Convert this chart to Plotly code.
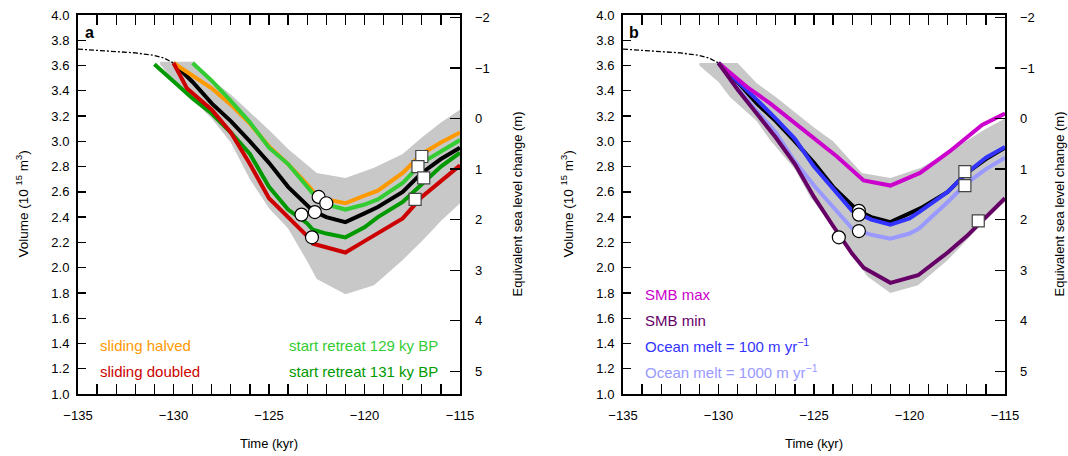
import plotly.graph_objects as go

# ---------------- data ----------------
t_dash = [-135, -134, -133, -132, -131, -130.5, -130]
v_dash = [3.73, 3.72, 3.71, 3.70, 3.68, 3.66, 3.62]

# panel a
t_ref = [-130, -129, -128, -127, -126, -125, -124, -123, -122.7, -122, -121, -120, -119.3, -118, -117, -116, -115]
v_ref = [3.62, 3.47, 3.30, 3.16, 3.00, 2.83, 2.64, 2.49, 2.45, 2.40, 2.36, 2.43, 2.48, 2.60, 2.75, 2.86, 2.95]

t_halved = [-130, -129, -128, -127, -126, -125, -124, -123, -122.5, -122, -121, -120, -119.3, -118, -117, -116, -115]
v_halved = [3.62, 3.52, 3.42, 3.29, 3.14, 2.96, 2.82, 2.66, 2.57, 2.54, 2.51, 2.57, 2.61, 2.75, 2.90, 2.99, 3.07]

t_doubled = [-130, -129.6, -129.3, -129, -128, -127, -126, -125, -124, -123, -122.7, -122, -121, -120, -119.3, -118, -117, -116, -115]
v_doubled = [3.62, 3.50, 3.42, 3.38, 3.25, 3.07, 2.82, 2.55, 2.40, 2.25, 2.19, 2.16, 2.12, 2.21, 2.27, 2.39, 2.56, 2.68, 2.81]

t_r129 = [-129, -128, -127, -126, -125, -124, -123, -122.5, -122, -121, -120, -119.3, -118, -117, -116, -115]
v_r129 = [3.62, 3.48, 3.32, 3.15, 2.95, 2.82, 2.64, 2.55, 2.50, 2.46, 2.50, 2.54, 2.67, 2.83, 2.92, 3.01]

t_r131 = [-131, -130, -129.5, -129, -128, -127, -126, -125, -124, -123, -122.7, -122, -121, -120, -119.3, -118, -117, -116, -115]
v_r131 = [3.61, 3.47, 3.40, 3.34, 3.22, 3.07, 2.90, 2.64, 2.46, 2.35, 2.30, 2.27, 2.24, 2.32, 2.40, 2.52, 2.66, 2.80, 2.91]

env_a_t_up = [-130.7, -128.9, -128, -127, -126, -125, -124, -123, -122.5, -121, -119.5, -118, -117, -116, -115]
env_a_v_up = [3.63, 3.63, 3.49, 3.37, 3.23, 3.09, 2.94, 2.81, 2.75, 2.71, 2.79, 2.90, 3.03, 3.15, 3.25]
env_a_t_lo = [-130.7, -130, -129, -128, -127, -126, -125, -124, -123, -122.5, -121, -119.5, -118, -117, -116, -115]
env_a_v_lo = [3.61, 3.48, 3.33, 3.18, 2.99, 2.70, 2.47, 2.31, 2.05, 1.91, 1.79, 1.86, 2.06, 2.21, 2.37, 2.51]

circ_a_t = [-122.4, -122.0, -122.6, -123.3, -122.75]
circ_a_v = [2.56, 2.51, 2.44, 2.42, 2.24]
sq_a_t = [-117.0, -117.2, -116.9, -117.35]
sq_a_v = [2.88, 2.80, 2.71, 2.54]

# panel b
t_m100 = [-130, -129, -128, -127, -126, -125, -124, -123, -122, -121, -120, -119.5, -118, -117, -116, -115]
v_m100 = [3.62, 3.48, 3.33, 3.18, 3.02, 2.80, 2.63, 2.45, 2.38, 2.34, 2.39, 2.44, 2.60, 2.75, 2.87, 2.955]

t_m1000 = [-130, -129, -128, -127, -126, -125, -124, -123, -122, -121, -120, -119.5, -118, -117, -116, -115]
v_m1000 = [3.62, 3.42, 3.24, 3.07, 2.84, 2.65, 2.48, 2.31, 2.26, 2.23, 2.27, 2.31, 2.52, 2.67, 2.78, 2.87]

t_smbmax = [-130, -128.5, -127.3, -125.6, -123.8, -122.4, -121, -119.45, -117.9, -116.2, -115]
v_smbmax = [3.62, 3.43, 3.30, 3.10, 2.88, 2.69, 2.65, 2.75, 2.92, 3.13, 3.22]

t_smbmin = [-130, -129, -128, -127, -126, -125, -124, -123, -122.4, -121, -119.55, -118, -117, -116, -115]
v_smbmin = [3.62, 3.41, 3.22, 3.03, 2.82, 2.56, 2.33, 2.11, 2.00, 1.88, 1.94, 2.12, 2.25, 2.40, 2.55]

env_b_t_up = [-131, -129, -128, -127, -125, -124, -122.5, -121, -119.4, -117.9, -116, -115]
env_b_v_up = [3.62, 3.62, 3.46, 3.35, 3.11, 3.00, 2.75, 2.71, 2.79, 2.92, 3.10, 3.18]
env_b_t_lo = [-131, -130, -129.4, -128, -127.3, -126, -125.2, -124, -123.6, -122.2, -121, -119.55, -118, -117, -116, -115]
env_b_v_lo = [3.60, 3.47, 3.35, 3.16, 3.01, 2.78, 2.56, 2.33, 2.22, 1.93, 1.80, 1.86, 2.06, 2.22, 2.38, 2.52]

circ_b_t = [-122.65, -122.65, -122.65, -123.7]
circ_b_v = [2.45, 2.42, 2.29, 2.24]
sq_b_t = [-117.1, -117.1, -116.4]
sq_b_v = [2.76, 2.65, 2.37]

x_ticks = [-135, -130, -125, -120, -115]
x_ticktext = ["\u2212135", "\u2212130", "\u2212125", "\u2212120", "\u2212115"]
sle_ticks = [-2, -1, 0, 1, 2, 3, 4, 5]
sle_ticktext = ["\u22122", "\u22121", "0", "1", "2", "3", "4", "5"]

# colours
C_GRAY = "#c8c8c8"
C_ORANGE = "#ff9900"
C_RED = "#cc0000"
C_LGREEN = "#33cc33"
C_DGREEN = "#009900"
C_MAGENTA = "#cc00cc"
C_PURPLE = "#660066"
C_BLUE = "#3333ff"
C_LBLUE = "#9999ff"

FONT = "Liberation Sans, Arial, Helvetica, sans-serif"

fig = go.Figure()

def envelope(tu, vu, tl, vl, xa, ya):
    xs = list(tu) + list(reversed(tl))
    ys = list(vu) + list(reversed(vl))
    fig.add_trace(go.Scatter(x=xs, y=ys, fill="toself", fillcolor=C_GRAY,
                             line=dict(width=0), mode="lines", hoverinfo="skip",
                             xaxis=xa, yaxis=ya, showlegend=False))

def line(t, v, color, xa, ya, width=4, dash=None):
    fig.add_trace(go.Scatter(x=t, y=v, mode="lines",
                             line=dict(color=color, width=width, dash=dash),
                             xaxis=xa, yaxis=ya, showlegend=False))

def markers(t, v, symbol, size, xa, ya, edge="black"):
    fig.add_trace(go.Scatter(x=t, y=v, mode="markers",
                             marker=dict(symbol=symbol, size=size, color="white",
                                         line=dict(color=edge, width=1.2)),
                             xaxis=xa, yaxis=ya, showlegend=False))

# panel a
envelope(env_a_t_up, env_a_v_up, env_a_t_lo, env_a_v_lo, "x", "y")
line(t_dash, v_dash, "black", "x", "y", width=1.3, dash="5px,2px,2px,2px")
line(t_ref, v_ref, "black", "x", "y")
line(t_halved, v_halved, C_ORANGE, "x", "y")
line(t_r129, v_r129, C_LGREEN, "x", "y")
line(t_r131, v_r131, C_DGREEN, "x", "y")
line(t_doubled, v_doubled, C_RED, "x", "y")
markers(circ_a_t, circ_a_v, "circle", 13, "x", "y")
markers(sq_a_t, sq_a_v, "square", 12, "x", "y", edge="#444444")

# panel b
envelope(env_b_t_up, env_b_v_up, env_b_t_lo, env_b_v_lo, "x2", "y3")
line(t_dash, v_dash, "black", "x2", "y3", width=1.3, dash="5px,2px,2px,2px")
line(t_m1000, v_m1000, C_LBLUE, "x2", "y3")
line(t_ref, v_ref, "black", "x2", "y3", width=4)
line(t_m100, v_m100, C_BLUE, "x2", "y3")
line(t_smbmax, v_smbmax, C_MAGENTA, "x2", "y3")
line(t_smbmin, v_smbmin, C_PURPLE, "x2", "y3")
markers(circ_b_t, circ_b_v, "circle", 13, "x2", "y3")
markers(sq_b_t, sq_b_v, "square", 12, "x2", "y3", edge="#444444")

# invisible traces to activate the sea-level axes
fig.add_trace(go.Scatter(x=[-135], y=[0], mode="markers", marker=dict(opacity=0),
                         xaxis="x", yaxis="y2", showlegend=False, hoverinfo="skip"))
fig.add_trace(go.Scatter(x=[-135], y=[0], mode="markers", marker=dict(opacity=0),
                         xaxis="x2", yaxis="y4", showlegend=False, hoverinfo="skip"))

XA = [0.07303, 0.43071]
XB = [0.58333, 0.94101]
YD = [0.13596, 0.96711]

tickfont = dict(family=FONT, size=13, color="black")

def xaxis(domain, anchor):
    return dict(domain=domain, anchor=anchor, range=[-135, -115],
                tickmode="array", tickvals=x_ticks, ticktext=x_ticktext,
                ticks="inside", ticklen=10, tickwidth=1.3, tickcolor="black",
                minor=dict(dtick=1, tick0=-135, ticks="inside", ticklen=5, tickwidth=1.3, tickcolor="black"),
                showline=True, linewidth=2, linecolor="black", mirror="allticks",
                showgrid=False, zeroline=False, tickfont=tickfont, automargin=False,
                ticklabelstandoff=8, fixedrange=True)

def yaxis(anchor):
    return dict(domain=YD, anchor=anchor, range=[1, 4], dtick=0.2, tick0=1,
                tickformat=".1f", ticks="inside", ticklen=8, tickwidth=1.3, tickcolor="black",
                showline=True, linewidth=2, linecolor="black", mirror=True,
                showgrid=False, zeroline=False, tickfont=tickfont, automargin=False,
                ticklabelstandoff=4)

def sleaxis(over, anchor):
    return dict(overlaying=over, anchor=anchor, side="right", range=[5.45, -2.05],
                tickmode="array", tickvals=sle_ticks, ticktext=sle_ticktext,
                ticks="inside", ticklen=10, tickwidth=1.3, tickcolor="black",
                showline=False, showgrid=False, zeroline=False, tickfont=tickfont,
                automargin=False, ticklabelstandoff=14)

fig.update_layout(
    width=1068, height=456,
    margin=dict(l=0, r=0, t=0, b=0),
    paper_bgcolor="white", plot_bgcolor="white",
    font=dict(family=FONT, size=13, color="black"),
    xaxis=xaxis(XA, "y"),
    yaxis=yaxis("x"),
    yaxis2=sleaxis("y", "x"),
    xaxis2=xaxis(XB, "y3"),
    yaxis3=yaxis("x2"),
    yaxis4=sleaxis("y3", "x2"),
    showlegend=False,
)

ann = []
lf = lambda c, s=13: dict(family=FONT, size=s, color=c)
LEG = 15
# panel labels
ann.append(dict(x=-134.4, y=3.86, xref="x", yref="y", text="<b>a</b>", showarrow=False,
                xanchor="center", yanchor="middle", font=dict(family=FONT, size=16, color="black")))
ann.append(dict(x=-134.4, y=3.86, xref="x2", yref="y3", text="<b>b</b>", showarrow=False,
                xanchor="center", yanchor="middle", font=dict(family=FONT, size=16, color="black")))
# panel a legend texts
ann.append(dict(x=-133.95, y=1.387, xref="x", yref="y", text="sliding halved", showarrow=False,
                xanchor="left", yanchor="middle", font=lf(C_ORANGE, LEG)))
ann.append(dict(x=-133.95, y=1.18, xref="x", yref="y", text="sliding doubled", showarrow=False,
                xanchor="left", yanchor="middle", font=lf(C_RED, LEG)))
ann.append(dict(x=-116.05, y=1.387, xref="x", yref="y", text="start retreat 129 ky BP", showarrow=False,
                xanchor="right", yanchor="middle", font=lf(C_LGREEN, LEG)))
ann.append(dict(x=-116.05, y=1.18, xref="x", yref="y", text="start retreat 131 ky BP", showarrow=False,
                xanchor="right", yanchor="middle", font=lf(C_DGREEN, LEG)))
# panel b legend texts
ann.append(dict(x=-133.95, y=1.79, xref="x2", yref="y3", text="SMB max", showarrow=False,
                xanchor="left", yanchor="middle", font=lf(C_MAGENTA, LEG)))
ann.append(dict(x=-133.95, y=1.585, xref="x2", yref="y3", text="SMB min", showarrow=False,
                xanchor="left", yanchor="middle", font=lf(C_PURPLE, LEG)))
ann.append(dict(x=-133.95, y=1.38, xref="x2", yref="y3", text="Ocean melt = 100 m yr<sup>\u22121</sup>",
                showarrow=False, xanchor="left", yanchor="middle", font=lf(C_BLUE, LEG)))
ann.append(dict(x=-133.95, y=1.18, xref="x2", yref="y3", text="Ocean melt = 1000 m yr<sup>\u22121</sup>",
                showarrow=False, xanchor="left", yanchor="middle", font=lf(C_LBLUE, LEG)))
# axis titles
for xc in [22, 567]:
    ann.append(dict(x=xc / 1068, y=(456 - 204.5) / 456, xref="paper", yref="paper",
                    text="Volume (10 <sup>15</sup> m<sup>3</sup>)", textangle=-90, showarrow=False,
                    xanchor="center", yanchor="middle", font=lf("black", 13.5)))
for xc in [517, 1059]:
    ann.append(dict(x=xc / 1068, y=(456 - 204.5) / 456, xref="paper", yref="paper",
                    text="Equivalent sea level change (m)", textangle=-90, showarrow=False,
                    xanchor="center", yanchor="middle", font=lf("black", 13)))
for xc in [269, 814]:
    ann.append(dict(x=xc / 1068, y=(456 - 443) / 456, xref="paper", yref="paper",
                    text="Time (kyr)", showarrow=False,
                    xanchor="center", yanchor="middle", font=lf("black", 13)))
fig.update_layout(annotations=ann)

fig.write_html("out.html",
               config={"displayModeBar": False, "staticPlot": True},
               post_script="document.body.style.margin='0';document.body.style.padding='0';"
                           "document.body.style.overflow='hidden';")
